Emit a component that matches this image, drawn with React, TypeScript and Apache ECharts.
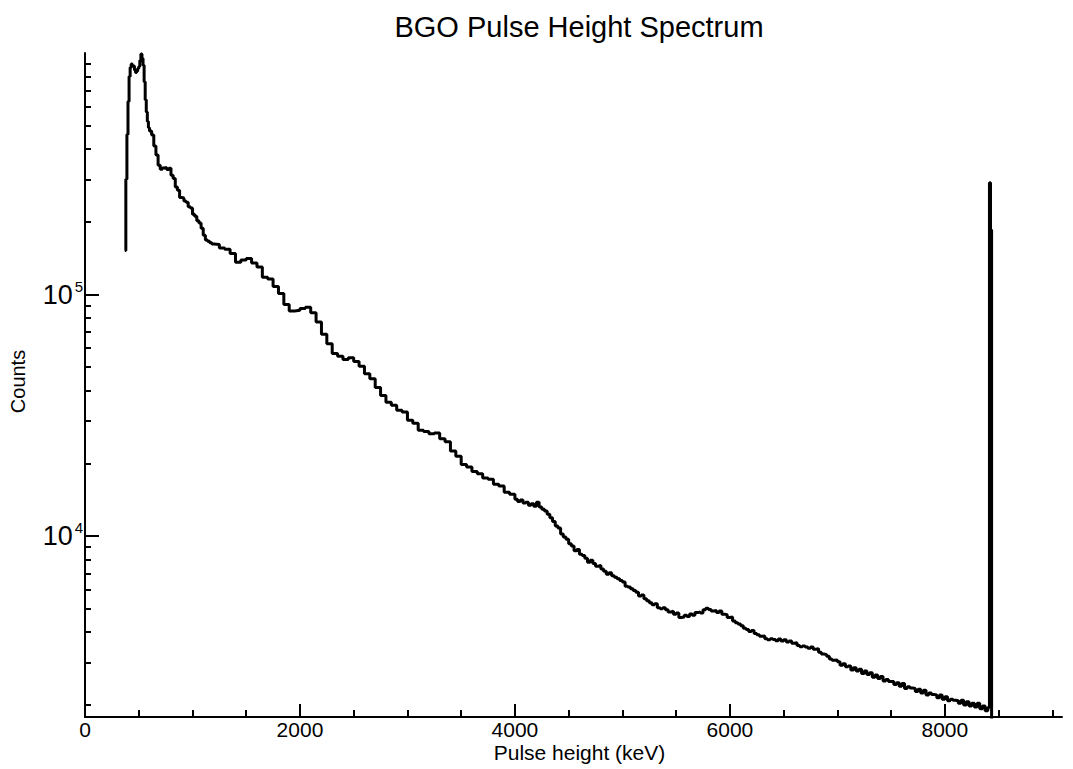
import React, { useEffect, useRef } from "react";
import * as echarts from "echarts";

// Bin lower edges (keV)
const energies: number[] = [
  370, 380, 390, 400, 410, 420, 430, 440, 450, 460, 470, 480, 490, 500, 510, 520, 530, 540, 550, 560, 570, 580, 590,
  600, 620, 640, 660, 680, 700, 720, 740, 760, 780, 800, 820, 840, 860, 880, 900, 920, 940, 960, 980,
  1000, 1020, 1040, 1060, 1080, 1100, 1120, 1140, 1160, 1180,
  1200, 1250, 1300, 1350, 1400, 1450, 1500, 1550, 1600, 1650, 1700, 1750, 1800, 1850, 1900, 1950,
  2000, 2050, 2100, 2150, 2200, 2250, 2300, 2350, 2400, 2450, 2500, 2550, 2600, 2650, 2700, 2750, 2800, 2850, 2900, 2950,
  3000, 3050, 3100, 3150, 3200, 3250, 3300, 3350, 3400, 3450, 3500, 3550, 3600, 3650, 3700, 3750, 3800, 3850, 3900, 3950,
  4000, 4025, 4050, 4075, 4100, 4125, 4150, 4175, 4200, 4225, 4250, 4275, 4300, 4325, 4350, 4375, 4400, 4425, 4450, 4475,
  4500, 4525, 4550, 4575, 4600, 4625, 4650, 4675, 4700, 4725, 4750, 4775, 4800, 4825, 4850, 4875, 4900, 4925, 4950, 4975,
  5000, 5025, 5050, 5075, 5100, 5125, 5150, 5175, 5200, 5225, 5250, 5275, 5300, 5325, 5350, 5375, 5400, 5425, 5450, 5475,
  5500, 5525, 5550, 5575, 5600, 5625, 5650, 5675, 5700, 5725, 5750, 5775, 5800, 5825, 5850, 5875, 5900, 5925, 5950, 5975,
  6000, 6025, 6050, 6075, 6100, 6125, 6150, 6175, 6200, 6225, 6250, 6275, 6300, 6325, 6350, 6375, 6400, 6425, 6450, 6475,
  6500, 6525, 6550, 6575, 6600, 6625, 6650, 6675, 6700, 6725, 6750, 6775, 6800, 6825, 6850, 6875, 6900, 6925, 6950, 6975,
  7000, 7025, 7050, 7075, 7100, 7125, 7150, 7175, 7200, 7225, 7250, 7275, 7300, 7325, 7350, 7375, 7400, 7425, 7450, 7475,
  7500, 7525, 7550, 7575, 7600, 7625, 7650, 7675, 7700, 7725, 7750, 7775, 7800, 7825, 7850, 7875, 7900, 7925, 7950, 7975,
  8000, 8025, 8050, 8075, 8100, 8125, 8150, 8175, 8200, 8225, 8250, 8275, 8300, 8325, 8350, 8375, 8400,
  8415, 8425, 8435, 8445,
];

// Counts per bin
const counts: number[] = [
  152000, 300000, 460000, 630000, 800000, 870000, 900000, 885000, 880000, 850000, 830000, 840000, 862000, 880000, 930000, 990000, 950000, 890000, 760000, 640000, 570000, 520000, 490000,
  475000, 458000, 412000, 378000, 343000, 330000, 334000, 336000, 329000, 333000, 312000, 302000, 279000, 270000, 252000, 251000, 244000, 241000, 231000, 228000,
  215000, 211000, 202000, 198000, 188000, 176000, 168000, 166000, 164000, 162000,
  161000, 156000, 154000, 148000, 136000, 139000, 141000, 135000, 130000, 118000, 116000, 108000, 101000, 91000, 85500, 86000,
  87500, 88500, 84000, 77000, 68500, 62500, 57000, 55500, 53800, 54800, 52800, 50500, 47000, 44800, 41200, 38200, 35800, 34800, 33200, 32600,
  30200, 29300, 27400, 27100, 26500, 26700, 25300, 24600, 22500, 21400, 19800, 19300, 18500, 18100, 17400, 17200, 16400, 16100, 15200, 14900,
  14200, 13900, 14100, 13700, 13800, 13400, 13600, 13300, 13800, 13200, 12900, 12700, 12300, 11900, 11500, 11000, 10800, 10200, 9900, 9700,
  9300, 9100, 8700, 8800, 8400, 8300, 8100, 7800, 7950, 7700, 7500, 7550, 7300, 7150, 6950, 7050, 6850, 6750, 6650, 6550,
  6450, 6200, 6150, 6050, 5950, 5850, 5650, 5700, 5500, 5400, 5300, 5200, 5250, 5050, 5000, 5050, 4950, 4850, 4880, 4750,
  4800, 4600, 4620, 4700, 4650, 4760, 4700, 4820, 4850, 4800, 4950, 5020, 4960, 4900, 4920, 4830, 4900, 4750, 4720, 4600,
  4620, 4450, 4380, 4320, 4250, 4150, 4100, 4030, 4060, 3950, 3900, 3850, 3860, 3760, 3720, 3760, 3730, 3690, 3750, 3680,
  3720, 3640, 3680, 3600, 3620, 3520, 3480, 3510, 3470, 3430, 3470, 3400, 3420, 3300, 3250, 3230, 3180, 3100, 3060, 3070,
  3020, 2920, 2960, 2880, 2900, 2790, 2850, 2760, 2810, 2700, 2760, 2670, 2720, 2600, 2660, 2570, 2620, 2510, 2550, 2500,
  2500, 2430, 2470, 2390, 2450, 2340, 2380, 2350, 2340, 2270, 2320, 2240, 2300, 2200, 2240, 2210, 2200, 2140, 2200, 2110,
  2160, 2080, 2110, 2090, 2080, 2030, 2090, 2000, 2060, 1980, 2030, 1960, 2030, 1930, 1980, 1890, 1950,
  290000, 185000, 1, 1,
];

const xMajorTicks = [0, 2000, 4000, 6000, 8000];
const xMinorTicks = [500, 1000, 1500, 2500, 3000, 3500, 4500, 5000, 5500, 6500, 7000, 7500, 8500, 9000];
const yMajorTicks = [10000, 100000];
const yMinorTicks = [
  2000, 3000, 4000, 5000, 6000, 7000, 8000, 9000,
  20000, 30000, 40000, 50000, 60000, 70000, 80000, 90000,
  200000, 300000, 400000, 500000, 600000, 700000, 800000, 900000,
];

const X_MIN = 0;
const X_MAX = 9090;
const Y_MIN = 1782;
const Y_MAX = 1000000;

const FONT = "'Liberation Sans', Arial, Helvetica, sans-serif";

export default function App() {
  const ref = useRef<HTMLDivElement>(null);

  useEffect(() => {
    if (!ref.current) return;
    const chart = echarts.init(ref.current, undefined, { renderer: "svg" });
    const data = energies.map((e, i) => [e, counts[i]]);
    const axisLine = { show: true, lineStyle: { color: "#000", width: 2 } };

    chart.setOption({
      animation: false,
      backgroundColor: "#fff",
      title: {
        text: "BGO Pulse Height Spectrum",
        left: 579,
        top: 12,
        textAlign: "center",
        padding: 0,
        textStyle: { fontFamily: FONT, fontSize: 29, fontWeight: "normal", color: "#000" },
      },
      grid: { left: 85, right: 11, top: 53, bottom: 52, containLabel: false, outerBoundsMode: "none" },
      xAxis: [
        {
          type: "value",
          min: X_MIN,
          max: X_MAX,
          position: "bottom",
          axisLine,
          splitLine: { show: false },
          axisTick: { show: true, inside: true, length: 13, lineStyle: { color: "#000", width: 2 }, customValues: xMajorTicks },
          axisLabel: {
            customValues: xMajorTicks,
            formatter: (v: number) => String(v),
            fontFamily: FONT,
            fontSize: 21,
            lineHeight: 15,
            color: "#000",
            margin: 4.5,
          },
          name: "Pulse height (keV)",
          nameLocation: "middle",
          nameGap: 28,
          nameMoveOverlap: false,
          nameTextStyle: { fontFamily: FONT, fontSize: 21, lineHeight: 15, color: "#000", padding: [0, 0, 0, 12] },
        },
        {
          type: "value",
          min: X_MIN,
          max: X_MAX,
          position: "bottom",
          axisLine: { show: false },
          splitLine: { show: false },
          axisTick: { show: true, inside: true, length: 7, lineStyle: { color: "#000", width: 2 }, customValues: xMinorTicks },
          axisLabel: { show: false },
        },
      ],
      yAxis: [
        {
          type: "log",
          logBase: 10,
          min: Y_MIN,
          max: Y_MAX,
          position: "left",
          axisLine,
          splitLine: { show: false },
          axisTick: { show: true, inside: true, length: 14, lineStyle: { color: "#000", width: 2 }, customValues: yMajorTicks },
          axisLabel: {
            customValues: yMajorTicks,
            margin: 2,
            formatter: (v: number) => `{a|10}{b|${Math.round(Math.log10(v))}}`,
            rich: {
              a: { fontFamily: FONT, fontSize: 27, color: "#000", lineHeight: 32 },
              b: { fontFamily: FONT, fontSize: 15, color: "#000", verticalAlign: "top", lineHeight: 15, padding: [0, 0, 0, 2] },
            },
          },
          name: "Counts",
          nameLocation: "middle",
          nameRotate: 90,
          nameGap: 57,
          nameMoveOverlap: false,
          nameTextStyle: { fontFamily: FONT, fontSize: 20, color: "#000", padding: [0, 0, 0, 7] },
        },
        {
          type: "log",
          logBase: 10,
          min: Y_MIN,
          max: Y_MAX,
          position: "left",
          axisLine: { show: false },
          splitLine: { show: false },
          axisTick: { show: true, inside: true, length: 6, lineStyle: { color: "#000", width: 2 }, customValues: yMinorTicks },
          axisLabel: { show: false },
        },
      ],
      series: [
        {
          type: "line",
          xAxisIndex: 0,
          yAxisIndex: 0,
          data,
          step: "end",
          showSymbol: false,
          symbol: "none",
          clip: true,
          lineStyle: { color: "#000", width: 3 },
        },
      ],
    });

    return () => chart.dispose();
  }, []);

  return <div ref={ref} style={{ position: "fixed", left: 0, top: 0, width: 1073, height: 769 }} />;
}
